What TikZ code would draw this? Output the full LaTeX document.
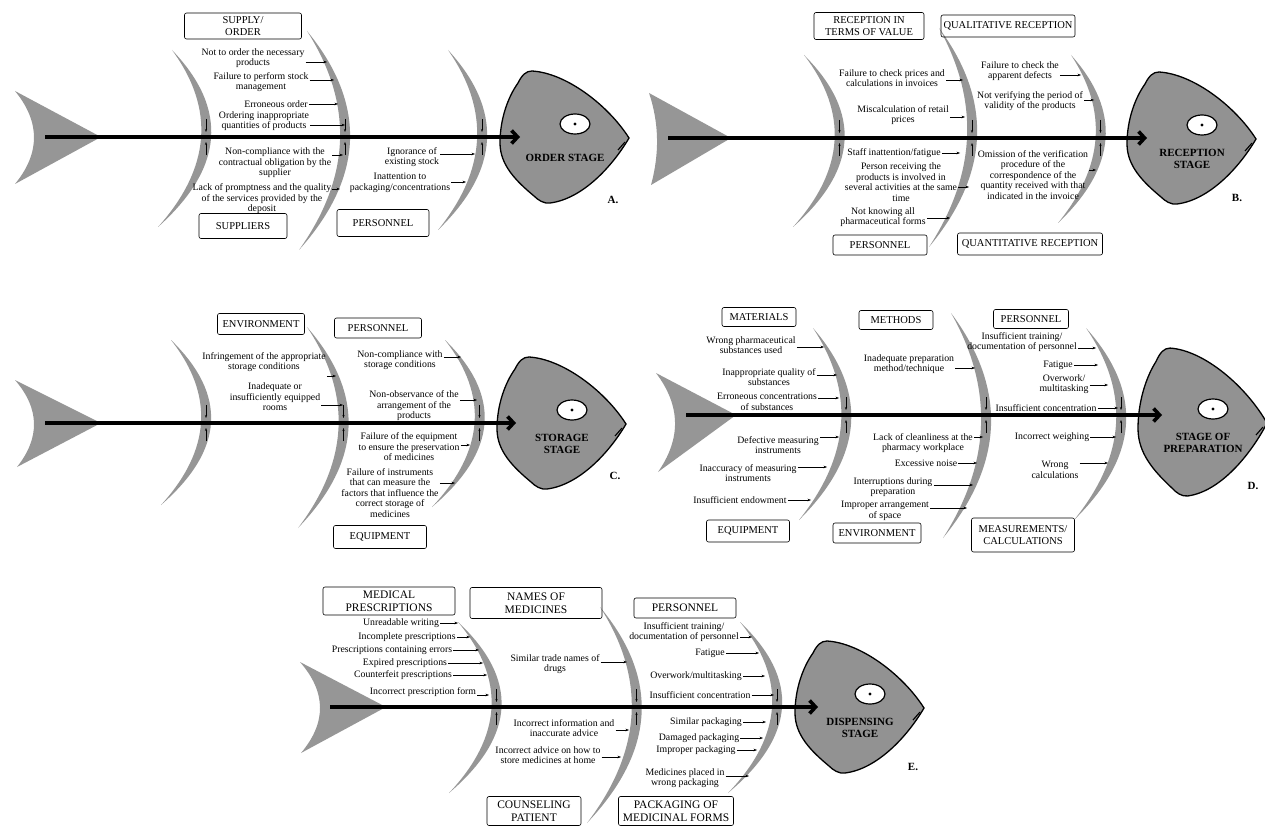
\documentclass[tikz,border=0pt]{standalone}
\usepackage{fontspec}
\setmainfont{Liberation Serif}
\usetikzlibrary{arrows.meta}

\definecolor{bonegray}{RGB}{150,150,150}
\definecolor{headgray}{RGB}{146,146,146}

\begin{document}
\begin{tikzpicture}[x=1pt, y=-1pt,
	bonefill/.style={fill=bonegray},
	headline/.style={draw=black, line width=1.3pt, fill=headgray},
	spine/.style={line width=3.6pt, -{Straight Barb[length=6pt,width=13pt]}},
	causearrow/.style={line width=0.5pt, -{Stealth[length=3.5pt,width=2.6pt]}},
	tick/.style={line width=0.5pt, -{Stealth[length=3pt,width=2.2pt]}},
	causetext/.style={align=center, inner sep=1pt, font=\fontsize{9.8}{10.5}\selectfont},
	catbox/.style={draw, line width=0.6pt, rounded corners=2pt, align=center, inner sep=1.5pt, font=\fontsize{10.5}{11.5}\selectfont},
	bigbox/.style={catbox, font=\fontsize{11.5}{12.5}\selectfont},
	headtext/.style={align=center, inner sep=1pt, font=\fontsize{11}{12}\selectfont\bfseries},
	letter/.style={font=\fontsize{11}{12}\selectfont\bfseries}]

	% tail: top x, top y, bottom x, bottom y, tip x, spine y, back x
	\def\fishtail#1#2#3#4#5#6#7{%
		\fill[bonefill] (#1,#2) -- (#5,#6) -- (#3,#4)
			.. controls ({(#7-0.125*(#1+#3))/0.75},{#4-(#4-#2)/3}) and ({(#7-0.125*(#1+#3))/0.75},{#2+(#4-#2)/3}) .. (#1,#2) -- cycle;
	}
	% bone: top x, top y, bottom x, bottom y, bulge, spine y
	\def\fishbone#1#2#3#4#5#6{%
		\fill[bonefill] (#1,#2)
			.. controls ({#1+(#3-#1)/3+4*#5/3},{#2+(#4-#2)/3}) and ({#1+2*(#3-#1)/3+4*#5/3},{#2+2*(#4-#2)/3}) .. (#3,#4)
			.. controls ({#1+2*(#3-#1)/3+4*(#5-10)/3},{#2+2*(#4-#2)/3}) and ({#1+(#3-#1)/3+4*(#5-10)/3},{#2+(#4-#2)/3}) .. (#1,#2) -- cycle;
		\draw[tick] ({(#1+#3)/2+#5-5},{#6-18}) -- ({(#1+#3)/2+#5-5},{#6-5});
		\draw[tick] ({(#1+#3)/2+#5-5},{#6+18}) -- ({(#1+#3)/2+#5-5},{#6+5});
	}
	% head: name, left x, centre y, y stretch, text
	\def\fishhead#1#2#3#4#5{%
		\begin{scope}[shift={(#2,#3)}]
			\draw[headline, yscale=#4] (18,-54)
				.. controls (22,-62) and (26,-66) .. (32,-66)
				.. controls (66,-64) and (108,-32) .. (129,1)
				.. controls (112,30) and (82,62) .. (50,66)
				.. controls (44,67) and (38,63) .. (34,59)
				.. controls (16,44) and (0,28) .. (0,6)
				.. controls (0,-18) and (8,-40) .. (18,-54) -- cycle;
			\draw[line width=1.2pt, fill=white] (75,-13) ellipse [x radius=15pt, y radius=10pt];
			\fill (75,-13) circle [radius=1.6pt];
			\draw[line width=1.1pt] (118,13) -- (125,5);
			\node[headtext] (#1) at (65,21) {#5};
		\end{scope}
	}
	% cause: name, x, y, arrow tip x, arrow tip y, text
	\def\cause#1#2#3#4#5#6{%
		\node[causetext] (#1) at (#2,#3) {#6};
		\coordinate (#1-tip) at (#4,#5);
		\draw[causearrow] (#1.east |- #1-tip) -- (#1-tip);
	}

	\useasboundingbox (0,0) rectangle (1265,826);

	% A. Order stage
	\fishtail{15}{91}{15}{184}{101}{137}{34}
	\foreach \xt/\yt/\xb/\yb/\b in {172/50/158/227/46, 307/31/299/250/47, 448/50/438/230/44} {
		\fishbone{\xt}{\yt}{\xb}{\yb}{\b}{137}
	}
	\fishhead{A-head}{500}{137}{1}{ORDER STAGE}
	\coordinate (A-start) at (45,137);
	\coordinate (A-end) at (520,137);
	\draw[spine] (A-start) -- (A-end);
	\node[letter] (A-label) at (613,200) {A.};

	\node[catbox, minimum width=117pt, minimum height=26pt] (A-supply) at (243,26) {SUPPLY/\\ORDER};
	\node[catbox, minimum width=88pt, minimum height=25pt] (A-suppliers) at (243,226) {SUPPLIERS};
	\node[catbox, minimum width=92pt, minimum height=27pt] (A-personnel) at (383,223) {PERSONNEL};

	\cause{a1}{253}{58}{327}{62}{Not to order the necessary\\products}
	\cause{a2}{261}{82}{334}{80}{Failure to perform stock\\management}
	\cause{a3}{276}{104}{338}{104}{Erroneous order}
	\cause{a4}{264}{121}{345}{125}{Ordering inappropriate\\quantities of products}
	\cause{a5}{275}{163}{343}{155}{Non-compliance with the\\contractual obligation by the\\supplier}
	\cause{a6}{262}{199}{340}{189}{Lack of promptness and the quality\\of the services provided by the\\deposit}
	\cause{a7}{412}{157}{475}{154}{Ignorance of\\existing stock}
	\cause{a8}{400}{183}{466}{182}{Inattention to\\packaging/concentrations}

	% B. Reception stage
	\fishtail{649}{93}{651}{185}{731}{138}{657}
	\foreach \xt/\yt/\xb/\yb/\b in {804/55/793/227/46, 939/28/929/247/43, 1071/55/1058/223/41} {
		\fishbone{\xt}{\yt}{\xb}{\yb}{\b}{138}
	}
	\fishhead{B-head}{1127}{138}{1}{RECEPTION\\STAGE}
	\coordinate (B-start) at (668,138);
	\coordinate (B-end) at (1147,138);
	\draw[spine] (B-start) -- (B-end);
	\node[letter] (B-label) at (1237,198) {B.};

	\node[catbox, minimum width=110pt, minimum height=27pt] (B-value) at (869,26) {RECEPTION IN\\TERMS OF VALUE};
	\node[catbox, minimum width=134pt, minimum height=22pt] (B-quality) at (1008,26) {QUALITATIVE RECEPTION};
	\node[catbox, minimum width=94pt, minimum height=20pt] (B-personnel) at (880,245) {PERSONNEL};
	\node[catbox, minimum width=145pt, minimum height=22pt] (B-quantity) at (1030,244) {QUANTITATIVE RECEPTION};

	\cause{b1}{892}{78}{963}{80}{Failure to check prices and\\calculations in invoices}
	\cause{b2}{903}{115}{965}{117}{Miscalculation of retail\\prices}
	\cause{b3}{894}{153}{960}{153}{Staff inattention/fatigue}
	\cause{b4}{901}{182}{969}{187}{Person receiving the\\products is involved in\\several activities at the same\\time}
	\cause{b5}{883}{217}{950}{218}{Not knowing all\\pharmaceutical forms}
	\cause{b6}{1020}{71}{1081}{75}{Failure to check the\\apparent defects}
	\cause{b7}{1030}{101}{1094}{100}{Not verifying the period of\\validity of the products}
	\cause{b8}{1033}{175}{1096}{170}{Omission of the verification\\procedure of the\\correspondence of the\\quantity received with that\\indicated in the invoice}

	% C. Storage stage
	\fishtail{15}{380}{17}{467}{101}{423}{34}
	\foreach \xt/\yt/\xb/\yb/\b in {171/340/161/505/45, 307/327/298/528/46, 445/340/432/507/46} {
		\fishbone{\xt}{\yt}{\xb}{\yb}{\b}{423}
	}
	\fishhead{C-head}{497}{423}{1}{STORAGE\\STAGE}
	\coordinate (C-start) at (45,423);
	\coordinate (C-end) at (516,423);
	\draw[spine] (C-start) -- (C-end);
	\node[letter] (C-label) at (615,476) {C.};

	\node[catbox, minimum width=87pt, minimum height=21pt] (C-environment) at (261,324) {ENVIRONMENT};
	\node[catbox, minimum width=87pt, minimum height=20pt] (C-personnel) at (378,328) {PERSONNEL};
	\node[catbox, minimum width=93pt, minimum height=23pt] (C-equipment) at (380,537) {EQUIPMENT};

	\cause{c1}{264}{362}{336}{376}{Infringement of the appropriate\\storage conditions}
	\cause{c2}{275}{397}{343}{405}{Inadequate or\\insufficiently equipped\\rooms}
	\cause{c3}{400}{360}{461}{357}{Non-compliance with\\storage conditions}
	\cause{c4}{414}{406}{477}{400}{Non-observance of the\\arrangement of the\\products}
	\cause{c5}{409}{447}{470}{445}{Failure of the equipment\\to ensure the preservation\\of medicines}
	\cause{c6}{390}{493}{455}{483}{Failure of instruments\\that can measure the\\factors that influence the\\correct storage of\\medicines}

	% D. Stage of preparation
	\fishtail{656}{373}{658}{472}{736}{415}{675}
	\foreach \xt/\yt/\xb/\yb/\b in {813/328/799/520/45, 951/313/943/538/44, 1086/328/1074/520/46} {
		\fishbone{\xt}{\yt}{\xb}{\yb}{\b}{415}
	}
	\fishhead{D-head}{1138}{422}{1.12}{STAGE OF\\PREPARATION}
	\coordinate (D-start) at (686,415);
	\coordinate (D-end) at (1162,415);
	\draw[spine] (D-start) -- (D-end);
	\node[letter] (D-label) at (1253,486) {D.};

	\node[catbox, minimum width=74pt, minimum height=19pt] (D-materials) at (759,317) {MATERIALS};
	\node[catbox, minimum width=74pt, minimum height=19pt] (D-methods) at (896,320) {METHODS};
	\node[catbox, minimum width=75pt, minimum height=19pt] (D-personnel) at (1031,319) {PERSONNEL};
	\node[catbox, minimum width=83pt, minimum height=22pt] (D-equipment) at (748,531) {EQUIPMENT};
	\node[catbox, minimum width=88pt, minimum height=20pt] (D-environment) at (877,533) {ENVIRONMENT};
	\node[catbox, minimum width=103pt, minimum height=34pt] (D-measure) at (1023,535) {MEASUREMENTS/\\CALCULATIONS};

	\cause{d1}{751}{345}{824}{347}{Wrong pharmaceutical\\substances used}
	\cause{d2}{769}{377}{837}{375}{Inappropriate quality of\\substances}
	\cause{d3}{767}{402}{839}{398}{Erroneous concentrations\\of substances}
	\cause{d4}{778}{445}{839}{437}{Defective measuring\\instruments}
	\cause{d5}{748}{473}{827}{467}{Inaccuracy of measuring\\instruments}
	\cause{d6}{740}{500}{811}{500}{Insufficient endowment}
	\cause{d7}{909}{364}{975}{368}{Inadequate preparation\\method/technique}
	\cause{d8}{923}{443}{983}{437}{Lack of cleanliness at the\\pharmacy workplace}
	\cause{d9}{926}{463}{977}{463}{Excessive noise}
	\cause{d10}{893}{487}{973}{485}{Interruptions during\\preparation}
	\cause{d11}{885}{511}{967}{508}{Improper arrangement\\of space}
	\cause{d12}{1022}{342}{1096}{348}{Insufficient training/\\documentation of personnel}
	\cause{d13}{1058}{365}{1098}{365}{Fatigue}
	\cause{d14}{1064}{384}{1108}{385}{Overwork/\\multitasking}
	\cause{d15}{1046}{408}{1118}{408}{Insufficient concentration}
	\cause{d16}{1052}{437}{1116}{437}{Incorrect weighing}
	\cause{d17}{1055}{470}{1108}{463}{Wrong\\calculations}

	% E. Dispensing stage
	\fishtail{300}{662}{301}{753}{386}{707}{320}
	\foreach \xt/\yt/\xb/\yb/\b in {458/622/449/793/48, 600/607/587/823/48, 740/622/728/793/48} {
		\fishbone{\xt}{\yt}{\xb}{\yb}{\b}{707}
	}
	\fishhead{E-head}{795}{707}{1}{DISPENSING\\STAGE}
	\coordinate (E-start) at (330,707);
	\coordinate (E-end) at (818,707);
	\draw[spine] (E-start) -- (E-end);
	\node[letter] (E-label) at (913,767) {E.};

	\node[bigbox, minimum width=132pt, minimum height=28pt] (E-prescriptions) at (389,601) {MEDICAL\\PRESCRIPTIONS};
	\node[bigbox, minimum width=132pt, minimum height=31pt] (E-names) at (536,603) {NAMES OF\\MEDICINES};
	\node[bigbox, minimum width=102pt, minimum height=20pt] (E-personnel) at (685,608) {PERSONNEL};
	\node[bigbox, minimum width=94pt, minimum height=29pt] (E-counseling) at (534,811) {COUNSELING\\PATIENT};
	\node[bigbox, minimum width=115pt, minimum height=29pt] (E-packaging) at (676,811) {PACKAGING OF\\MEDICINAL FORMS};

	\cause{e1}{401}{623}{458}{623}{Unreadable writing}
	\cause{e2}{407}{637}{470}{637}{Incomplete prescriptions}
	\cause{e3}{392}{650}{479}{650}{Prescriptions containing errors}
	\cause{e4}{405}{663}{483}{663}{Expired prescriptions}
	\cause{e5}{403}{675}{487}{675}{Counterfeit prescriptions}
	\cause{e6}{423}{692}{489}{695}{Incorrect prescription form}
	\cause{e7}{555}{664}{627}{662}{Similar trade names of\\drugs}
	\cause{e8}{564}{728}{629}{730}{Incorrect information and\\inaccurate advice}
	\cause{e9}{548}{755}{621}{757}{Incorrect advice on how to\\store medicines at home}
	\cause{e10}{684}{632}{752}{637}{Insufficient training/\\documentation of personnel}
	\cause{e11}{710}{653}{759}{653}{Fatigue}
	\cause{e12}{696}{676}{765}{676}{Overwork/multitasking}
	\cause{e13}{700}{695}{774}{695}{Insufficient concentration}
	\cause{e14}{706}{722}{766}{722}{Similar packaging}
	\cause{e15}{699}{738}{763}{738}{Damaged packaging}
	\cause{e16}{696}{750}{757}{750}{Improper packaging}
	\cause{e17}{685}{778}{749}{776}{Medicines placed in\\wrong packaging}

\end{tikzpicture}
\end{document}
